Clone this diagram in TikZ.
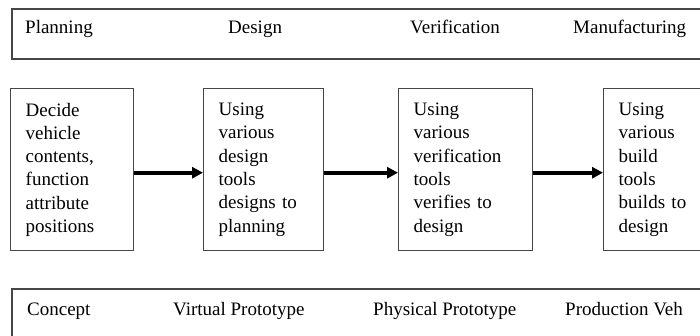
\documentclass[tikz,border=0pt]{standalone}
\usepackage{fontspec}
\setmainfont{Liberation Serif}
\usetikzlibrary{arrows.meta}
\begin{document}
\begin{tikzpicture}[x=1pt,y=-1pt,
  band/.style={draw=gray!55!black, line width=1.6pt, anchor=north west, inner sep=0pt},
  lbl/.style={anchor=base west, inner sep=0pt, font=\fontsize{19}{23.3}\selectfont},
  stepbox/.style={draw=gray!55!black, line width=1.4pt, anchor=north west, inner xsep=15pt,
    inner ysep=0pt, minimum height=162pt, align=left, font=\fontsize{19}{23.3}\selectfont},
  flow/.style={line width=3.8pt, -{Triangle[length=11pt,width=11pt]}}]
\useasboundingbox (0,0) rectangle (700,335);
\clip (0,0) rectangle (700,335);
% top band
\node[band, minimum width=720pt, minimum height=50pt] (topband) at (11,8) {};
\node[lbl] (planning) at (25,33) {Planning};
\node[lbl] (design) at (228,33) {Design};
\node[lbl] (verification) at (410,33) {Verification};
\node[lbl] (manufacturing) at (573,33) {Manufacturing};
% boxes
\node[stepbox, text width=93pt] (b1) at (10,88) {Decide\\vehicle\\contents,\\function\\attribute\\positions};
\node[stepbox, text width=90pt] (b2) at (203,88) {Using\\various\\design\\tools\\designs to\\planning};
\node[stepbox, text width=104pt] (b3) at (398,88) {Using\\various\\verification\\tools\\verifies to\\design};
\node[stepbox, text width=100pt] (b4) at (603,88) {Using\\various\\build\\tools\\builds to\\design};
% arrows
\draw[flow] ([yshift=-3pt]b1.east) -- ([yshift=-3pt]b2.west);
\draw[flow] ([yshift=-3pt]b2.east) -- ([yshift=-3pt]b3.west);
\draw[flow] ([yshift=-3pt]b3.east) -- ([yshift=-3pt]b4.west);
% bottom band
\node[band, minimum width=720pt, minimum height=60pt] (botband) at (11,288) {};
\node[lbl] (concept) at (27,315) {Concept};
\node[lbl] (virtual) at (173,315) {Virtual Prototype};
\node[lbl] (physical) at (373,315) {Physical Prototype};
\node[lbl] (production) at (565,315) {Production Veh};
\end{tikzpicture}
\end{document}
